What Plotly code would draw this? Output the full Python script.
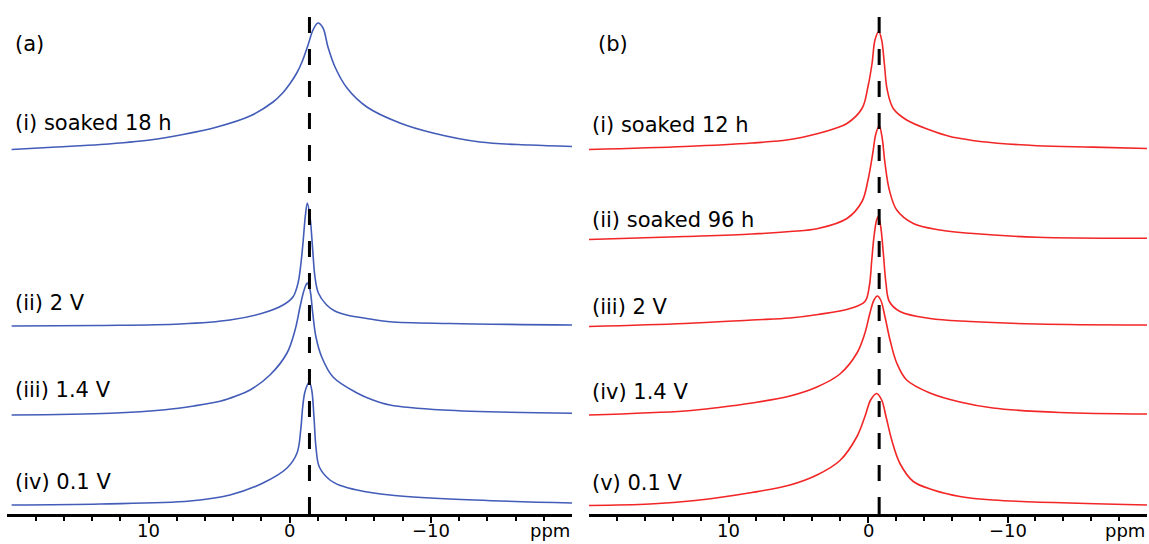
import plotly.graph_objects as go

# ---------------- data ----------------
# Panel (a): blue spectra
A_LABELS = ["(i) soaked 18 h", "(ii) 2 V", "(iii) 1.4 V", "(iv) 0.1 V"]
A_OFFSETS = [364, 188, 99, 9]

A1_PPM = [19.7, 16.5, 13.4, 9.9, 7.56, 5.15, 2.81, 1.18, 0.5, 0.0, -0.5, -0.87, -1.30, -1.65,
          -2.0, -2.36, -2.71, -3.21, -4.06, -5.47, -7.81, -10.15, -13.48, -17.0, -20.0]
A1_INT = [0.5, 3, 5.5, 10, 15.5, 23, 34, 48, 57, 66, 77, 88, 105, 120,
          127, 122, 103, 83, 62, 43, 27, 17, 8, 5, 3.5]

A2_PPM = [19.7, 13.4, 7.77, 4.23, 1.89, 0.47, -0.23, -0.59, -0.80, -0.96, -1.10, -1.25,
          -1.44, -1.63, -1.79, -2.03, -2.62, -3.2, -4.04, -5.69, -7.1, -11.35, -20.0]
A2_INT = [0, 0.5, 2, 6, 13, 21, 29, 43, 63, 86, 109, 123,
          109, 76, 49, 33, 21, 15, 11, 7, 4.3, 2.5, 1]

A3_PPM = [19.7, 12.7, 8.83, 6.8, 4.87, 3.8, 2.81, 1.40, 0.19, -0.38, -0.73, -0.96, -1.15, -1.25,
          -1.44, -1.63, -1.86, -2.27, -3.07, -4.77, -5.8, -7.1, -10.86, -20.0]
A3_INT = [0, 1.7, 5.2, 9, 14, 19, 25, 40, 62, 85, 108, 122, 130, 132,
          125, 102, 78, 58, 38, 22, 15.5, 10, 5, 1.7]

A4_PPM = [19.7, 13.4, 7.06, 4.23, 1.89, 0.19, -0.52, -0.78, -0.92, -1.06, -1.25, -1.39,
          -1.56, -1.72, -1.86, -2.10, -2.85, -3.6, -4.77, -7.1, -11.35, -20.0]
A4_INT = [0, 1, 4, 10, 22, 37, 52, 75, 98, 112, 120, 123,
          115, 88, 58, 38, 25, 19.5, 15, 10, 6, 2]

# Panel (b): red spectra
B_LABELS = ["(i) soaked 12 h", "(ii) soaked 96 h", "(iii) 2 V", "(iv) 1.4 V", "(v) 0.1 V"]
B_OFFSETS = [364.5, 274.5, 187.5, 99, 8.5]

B1_PPM = [20.0, 13.12, 8.32, 5.59, 3.58, 2.37, 1.51, 0.43, 0.0, -0.29, -0.50, -0.77,
          -0.98, -1.17, -1.38, -1.81, -2.77, -4.44, -5.88, -7.31, -8.03, -12.11, -16.13, -20.0]
B1_INT = [0, 3, 6.5, 10, 16, 21, 26, 41, 63, 86, 109.5, 118,
          109.5, 86, 59.5, 41, 29.5, 19.5, 13, 9.5, 8, 3.8, 2.4, 1]

B2_PPM = [20.0, 13.12, 8.32, 5.59, 3.58, 1.51, 0.43, 0.0, -0.34, -0.57, -0.81,
          -1.0, -1.22, -1.53, -2.06, -3.25, -5.16, -7.31, -12.11, -20.0]
B2_INT = [0, 3, 5.5, 8, 11, 21, 38, 59.5, 86, 106, 113.5,
          103, 76, 49.5, 29.5, 16, 9.5, 6.2, 2.2, 1.2]

B3_PPM = [20.0, 13.12, 8.32, 5.59, 3.58, 1.29, 0.22, -0.09, -0.27, -0.43, -0.62, -0.74,
          -0.91, -1.10, -1.29, -1.53, -2.29, -4.44, -7.31, -12.11, -20.0]
B3_INT = [0, 3, 6.5, 8.5, 12, 18, 25, 40, 66.5, 90, 106.5, 110,
          100, 73, 43, 25, 15, 8, 5, 2.5, 1.5]

B4_PPM = [20.0, 13.12, 10.7, 8.32, 5.59, 3.66, 2.01, 0.79, 0.22, -0.14, -0.43, -0.67,
          -0.91, -1.22, -1.58, -2.06, -2.77, -4.44, -6.59, -8.96, -13.76, -20.0]
B4_INT = [0, 4, 7.5, 12, 19, 28, 41, 62, 82, 102, 115, 119,
          115, 98, 75, 52, 35, 22, 13, 7, 2.5, 1]

B5_PPM = [20.0, 15.63, 12.4, 8.32, 5.59, 3.66, 2.01, 0.79, 0.22, -0.19, -0.62,
          -0.98, -1.29, -1.70, -2.29, -3.25, -4.68, -6.59, -8.96, -20.0]
B5_INT = [0, 1.5, 5, 13, 20.5, 30.5, 45, 69, 89, 105.5, 112,
          105.5, 89, 65.5, 42, 24, 15.5, 9, 5.5, 0.5]

A_SPECTRA = [(A1_PPM, A1_INT), (A2_PPM, A2_INT), (A3_PPM, A3_INT), (A4_PPM, A4_INT)]
B_SPECTRA = [(B1_PPM, B1_INT), (B2_PPM, B2_INT), (B3_PPM, B3_INT),
             (B4_PPM, B4_INT), (B5_PPM, B5_INT)]

A_REF_PPM = -1.4
B_REF_PPM = -0.8

MAJOR_TICKS = [10, 0, -10]
MAJOR_TEXT = ["10", "0", "\u221210"]
MINOR_TICKS = [18, 16, 14, 12, 8, 6, 4, 2, -2, -4, -6, -8, -12, -14, -16, -18]

# ---------------- styles ----------------
FONT = "DejaVu Sans"
BLUE = "rgb(66,92,184)"
RED = "rgb(242,38,38)"
W, H = 1149, 544
YTOP = 514

fig = go.Figure()

for (ppm, inten), off in zip(A_SPECTRA, A_OFFSETS):
    fig.add_trace(go.Scatter(x=ppm, y=[v + off for v in inten], mode="lines",
                             line=dict(color=BLUE, width=1.6, shape="spline", smoothing=1.0),
                             xaxis="x", yaxis="y", showlegend=False, hoverinfo="skip"))
for (ppm, inten), off in zip(B_SPECTRA, B_OFFSETS):
    fig.add_trace(go.Scatter(x=ppm, y=[v + off for v in inten], mode="lines",
                             line=dict(color=RED, width=1.6, shape="spline", smoothing=1.0),
                             xaxis="x2", yaxis="y2", showlegend=False, hoverinfo="skip"))

axis_common = dict(range=[20, -20], showline=True, linewidth=3, linecolor="black",
                   ticks="outside", ticklen=6, tickwidth=2, tickcolor="black",
                   tickmode="array", tickvals=MAJOR_TICKS, showticklabels=False,
                   showgrid=False, zeroline=False,
                   minor=dict(tickmode="array", tickvals=MINOR_TICKS, ticks="outside",
                              ticklen=4, tickwidth=2, tickcolor="black", showgrid=False),
                   fixedrange=True)

fig.update_layout(
    width=W, height=H,
    margin=dict(l=0, r=0, t=0, b=H - YTOP),
    paper_bgcolor="white", plot_bgcolor="white",
    font=dict(family=FONT, size=21, color="black"),
    xaxis=dict(domain=[7.4 / W, 572 / W], anchor="y", **axis_common),
    xaxis2=dict(domain=[589 / W, 1147 / W], anchor="y2", **axis_common),
    yaxis=dict(range=[0, YTOP], visible=False, fixedrange=True),
    yaxis2=dict(range=[0, YTOP], visible=False, fixedrange=True, anchor="x2"),
)

shapes = []
for xr, yr, ref in (("x", "y", A_REF_PPM), ("x2", "y2", B_REF_PPM)):
    shapes.append(dict(type="line", xref=xr, yref=yr, x0=ref, x1=ref, y0=497, y1=8,
                       line=dict(color="black", width=3, dash="16px,16px")))
    shapes.append(dict(type="line", xref=xr, yref=yr, x0=ref, x1=ref, y0=0, y1=8,
                       line=dict(color="black", width=3)))
fig.update_layout(shapes=shapes)

A_LABEL_Y = [391.5, 211, 124, 32]
B_LABEL_Y = [389, 294, 207, 122, 31]
TICK_FONT = dict(family=FONT, size=18, color="black")
ann = []
ann.append(dict(text="(a)", xref="x", yref="y", x=19.6, y=470, xanchor="left",
                yanchor="middle", showarrow=False))
ann.append(dict(text="(b)", xref="x2", yref="y2", x=19.5, y=470, xanchor="left",
                yanchor="middle", showarrow=False))
for t, yv in zip(A_LABELS, A_LABEL_Y):
    ann.append(dict(text=t, xref="x", yref="y", x=19.6, y=yv, xanchor="left",
                    yanchor="middle", showarrow=False))
for t, yv in zip(B_LABELS, B_LABEL_Y):
    ann.append(dict(text=t, xref="x2", yref="y2", x=19.9, y=yv, xanchor="left",
                    yanchor="middle", showarrow=False))
for xr in ("x", "x2"):
    for tv, tt in zip(MAJOR_TICKS, MAJOR_TEXT):
        ann.append(dict(text=tt, xref=xr, yref="paper", x=tv, y=0, xanchor="center",
                        yanchor="top", yshift=-4, showarrow=False, font=TICK_FONT))
    ann.append(dict(text="ppm", xref=xr, yref="paper", x=-20, y=0, xanchor="right",
                    yanchor="top", yshift=-4, showarrow=False, font=TICK_FONT))
fig.update_layout(annotations=ann)

fig.write_html("out.html", config={"displayModeBar": False},
               post_script="document.body.style.margin='0';document.body.style.overflow='hidden';")
